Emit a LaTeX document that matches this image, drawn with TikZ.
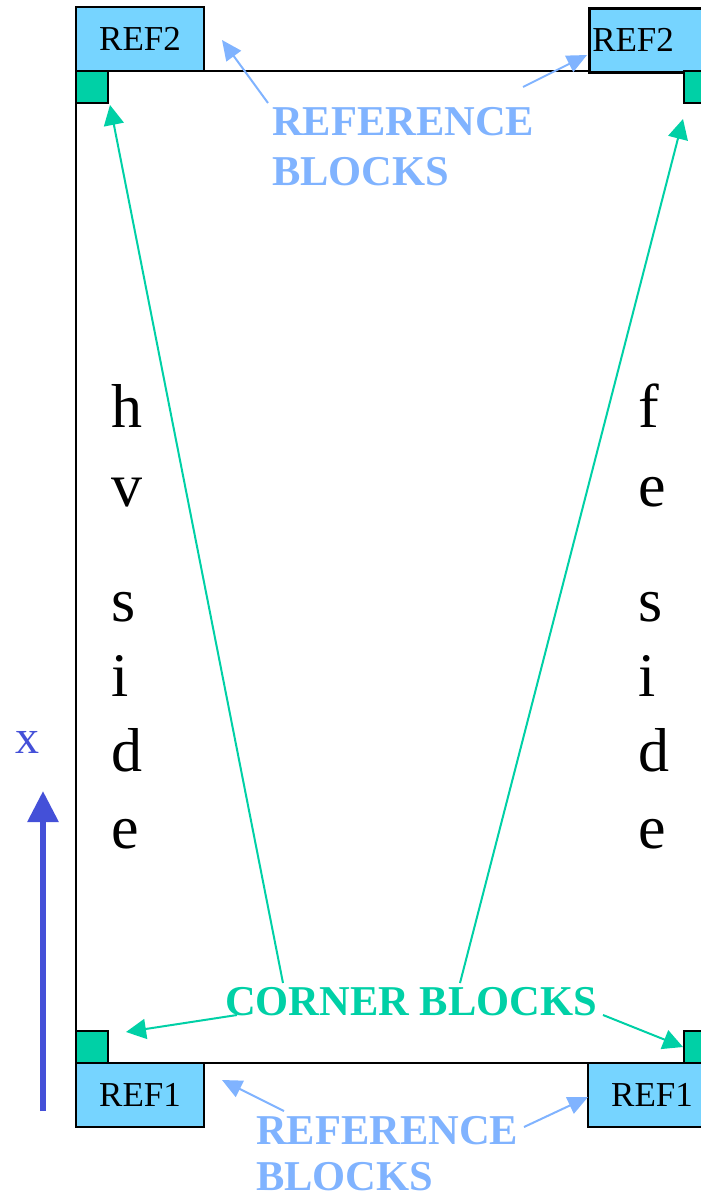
\documentclass[tikz,border=0pt]{standalone}
\usepackage{fontspec}
\setmainfont{Liberation Serif}
\usetikzlibrary{arrows.meta}
\definecolor{boxblue}{RGB}{118,212,255}
\definecolor{cornergreen}{RGB}{0,208,166}
\definecolor{labelblue}{RGB}{128,179,255}
\definecolor{axisblue}{RGB}{68,80,216}
\tikzset{
  refbox/.style={draw=black, line width=2.5pt, fill=boxblue, minimum width=128pt, minimum height=64pt, inner sep=0pt, font=\fontsize{35}{40}\selectfont},
  cornerbox/.style={draw=black, line width=2.5pt, fill=cornergreen, minimum width=32pt, minimum height=32pt, inner sep=0pt},
  sideletter/.style={anchor=base west, inner sep=0pt, font=\fontsize{62}{66}\selectfont},
  bluelabel/.style={anchor=base west, inner sep=0pt, text depth=0pt, text=labelblue, font=\bfseries\fontsize{42.5}{50}\selectfont},
  greenlabel/.style={anchor=base, inner sep=0pt, text=cornergreen, font=\bfseries\fontsize{42.5}{50}\selectfont},
  greenarrow/.style={draw=cornergreen, line width=2pt, -{Triangle[length=20pt,width=20pt]}},
  bluearrow/.style={draw=labelblue, line width=2pt, -{Triangle[length=20pt,width=18pt]}},
}
\begin{document}
\begin{tikzpicture}[x=1pt,y=-1pt]
\useasboundingbox (0,0) rectangle (701,1197);
\begin{scope}
\clip (0,0) rectangle (701,1197);
% frame
\draw[line width=2.5pt] (76,71) rectangle (760,1063);
% reference boxes
\node[refbox] (ref2l) at (140,39) {REF2};
\node[refbox, anchor=north west, text width=122pt, inner xsep=3pt, align=left] (ref2r) at (588,7) {REF2};
\node[refbox] (ref1l) at (140,1095) {REF1};
\node[refbox] (ref1r) at (652,1095) {REF1};
% corner blocks
\node[cornerbox] (cbtl) at (92,87) {};
\node[cornerbox] (cbtr) at (700,87) {};
\node[cornerbox] (cbbl) at (92,1047) {};
\node[cornerbox] (cbbr) at (700,1047) {};
\end{scope}
% side letters
\node[sideletter] (h1) at (111,427) {h};
\node[sideletter] (h2) at (111,506) {v};
\node[sideletter] (h3) at (111,621) {s};
\node[sideletter] (h4) at (111,696) {i};
\node[sideletter] (h5) at (111,771) {d};
\node[sideletter] (h6) at (111,848) {e};
\node[sideletter] (f1) at (638,427) {f};
\node[sideletter] (f2) at (638,506) {e};
\node[sideletter] (f3) at (638,621) {s};
\node[sideletter] (f4) at (638,696) {i};
\node[sideletter] (f5) at (638,771) {d};
\node[sideletter] (f6) at (638,848) {e};
% axis
\node[anchor=base, inner sep=0pt, text=axisblue, font=\fontsize{48}{50}\selectfont] (xlab) at (28,753) {x};
\coordinate (axbot) at (43,1111);
\coordinate (axtop) at (43,791);
\draw[axisblue, line width=6pt, -{Triangle[length=31pt,width=30pt]}] (axbot) -- (axtop);
% labels
\node[bluelabel] (reftop1) at (272,135) {REFERENCE};
\node[bluelabel] (reftop2) at (272,185) {BLOCKS};
\node[bluelabel] (refbot1) at (256,1144) {REFERENCE};
\node[bluelabel] (refbot2) at (256,1190) {BLOCKS};
\node[greenlabel] (corner) at (411,1015) {CORNER BLOCKS};
% green arrows
\coordinate (g1t) at (283,983);
\coordinate (g1h) at (110,105);
\coordinate (g2t) at (460,983);
\coordinate (g2h) at (683,119);
\coordinate (g3t) at (237,1015);
\coordinate (g3h) at (126,1032);
\coordinate (g4t) at (603,1015);
\coordinate (g4h) at (683,1047);
\draw[greenarrow] (g1t) -- (g1h);
\draw[greenarrow] (g2t) -- (g2h);
\draw[greenarrow] (g3t) -- (g3h);
\draw[greenarrow] (g4t) -- (g4h);
% blue arrows
\coordinate (b1t) at (268,103);
\coordinate (b1h) at (222,40);
\coordinate (b2t) at (523,87);
\coordinate (b2h) at (587,55);
\coordinate (b3t) at (284,1111);
\coordinate (b3h) at (222,1080);
\coordinate (b4t) at (524,1127);
\coordinate (b4h) at (588,1097);
\draw[bluearrow] (b1t) -- (b1h);
\draw[bluearrow] (b2t) -- (b2h);
\draw[bluearrow] (b3t) -- (b3h);
\draw[bluearrow] (b4t) -- (b4h);
\end{tikzpicture}
\end{document}
